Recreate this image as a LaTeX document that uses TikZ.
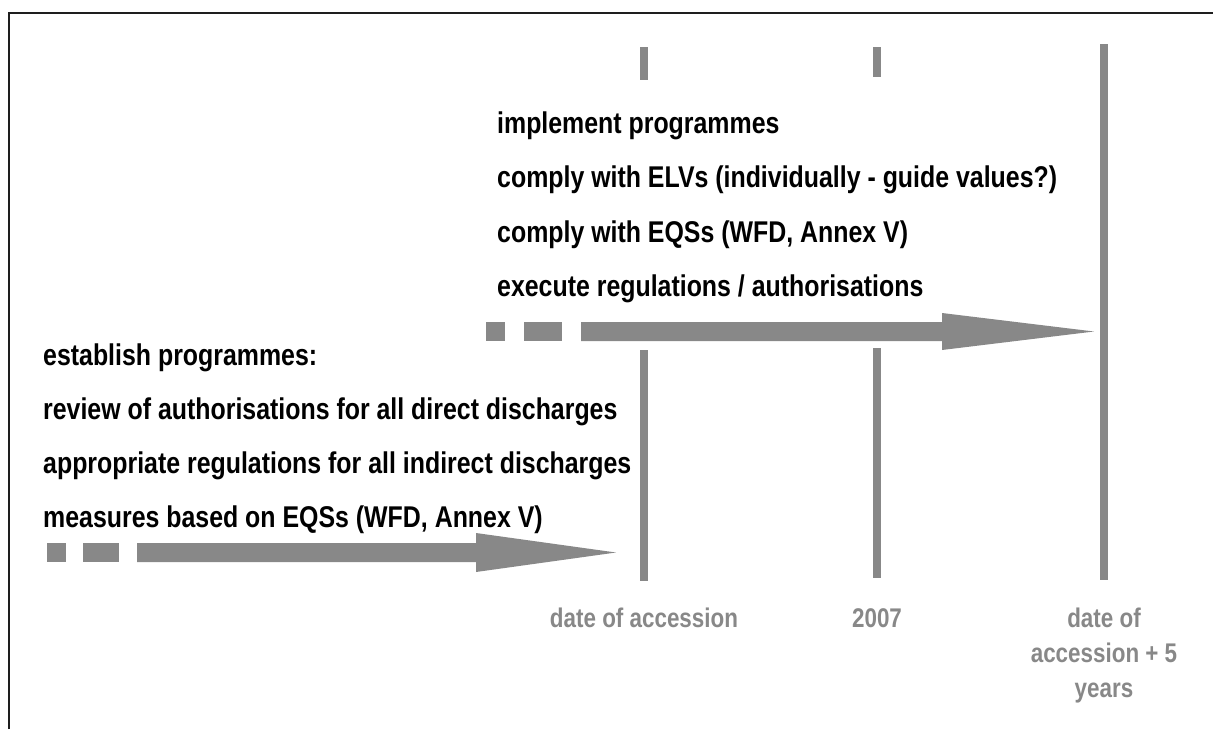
\documentclass[tikz,border=0pt]{standalone}
\usepackage{fontspec}
\setmainfont{Liberation Sans}[FakeStretch=0.83]
\definecolor{barg}{RGB}{136,136,136}
\definecolor{frameg}{RGB}{30,30,30}
\begin{document}
\begin{tikzpicture}[x=1pt,y=-1pt,
  bar/.style={fill=barg,draw=none},
  arr/.style={fill=barg,draw=none},
  txt/.style={anchor=base west,inner sep=0pt,font=\fontsize{30}{30}\selectfont\bfseries},
  datelbl/.style={anchor=base,inner sep=0pt,text=barg,font=\fontsize{27}{35}\selectfont\bfseries,align=center}]
\useasboundingbox (0,0) rectangle (1213,729);
% frame
\coordinate (fb) at (9,729);
\coordinate (fc) at (9,13);
\coordinate (fr) at (1213,13);
\draw[line width=1.6pt,frameg] (fb) -- (fc) -- (fr);
% bars
\fill[bar] (640,47) rectangle (648,80);
\fill[bar] (640,350) rectangle (648,581);
\fill[bar] (873,47) rectangle (881,77);
\fill[bar] (873,348) rectangle (881,578);
\fill[bar] (1100,44) rectangle (1108,580);
% upper arrow
\fill[arr] (486,322) rectangle (505,341);
\fill[arr] (524,322) rectangle (562,341);
\fill[arr] (581,322) -- (942,322) -- (942,313) -- (1094,331.5) -- (942,350) -- (942,341) -- (581,341) -- cycle;
% lower arrow
\fill[arr] (47,543) rectangle (66,562);
\fill[arr] (83,543) rectangle (119,562);
\fill[arr] (137,543) -- (476,543) -- (476,533) -- (616,552.5) -- (476,572) -- (476,562) -- (137,562) -- cycle;
% upper texts
\node[txt] (u1) at (497,133) {implement programmes};
\node[txt] (u2) at (497,187) {comply with ELVs (individually - guide values?)};
\node[txt] (u3) at (497,242) {comply with EQSs (WFD, Annex V)};
\node[txt] (u4) at (497,296) {execute regulations / authorisations};
% lower texts
\node[txt] (l1) at (43,365) {establish programmes:};
\node[txt] (l2) at (43,419) {review of authorisations for all direct discharges};
\node[txt] (l3) at (43,473) {appropriate regulations for all indirect discharges};
\node[txt] (l4) at (43,527) {measures based on EQSs (WFD, Annex V)};
% date labels
\node[datelbl] (d1) at (644,627) {date of accession};
\node[datelbl] (d2) at (877,627) {2007};
\node[datelbl] (d3) at (1104,697) {date of\\accession + 5\\years};
\end{tikzpicture}
\end{document}
